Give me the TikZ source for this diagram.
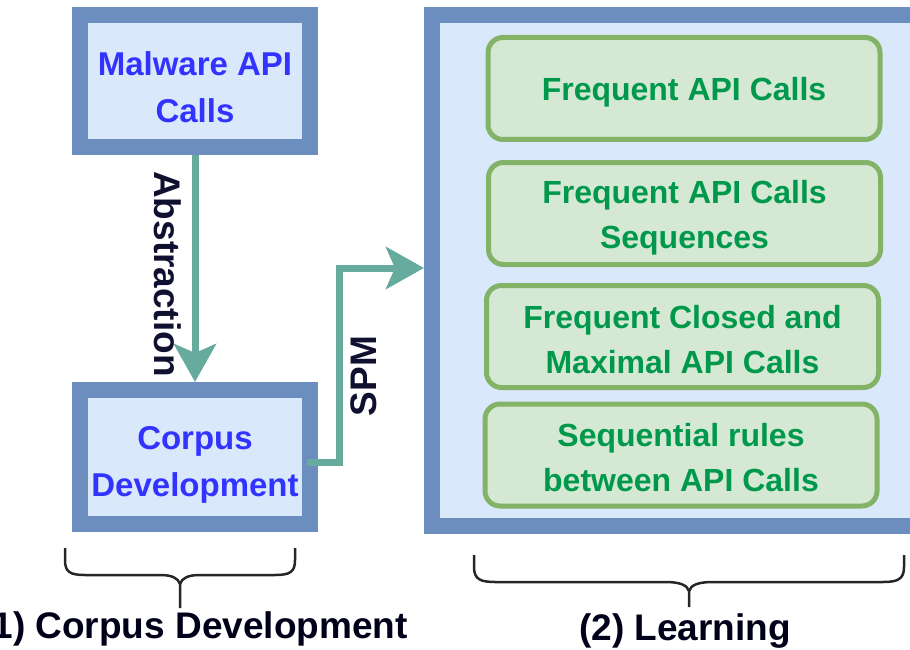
\documentclass[tikz,border=0pt]{standalone}
\usepackage{fontspec}
\setmainfont{Liberation Sans}
\usetikzlibrary{arrows.meta}
\definecolor{bblue}{HTML}{6C8EBF}
\definecolor{fblue}{HTML}{DAE8FC}
\definecolor{tealc}{HTML}{67AB9F}
\definecolor{gstroke}{HTML}{82B366}
\definecolor{gfill}{HTML}{D5E8D4}
\definecolor{gtext}{HTML}{00994C}
\definecolor{btext}{HTML}{3333FF}
\definecolor{ltext}{HTML}{101030}
\newcommand\bstr{\rule[-2pt]{0pt}{40pt}}
\newcommand\gstr{\rule[-3pt]{0pt}{34pt}}
\tikzset{
  bigbox/.style={draw=bblue, fill=fblue, line width=16pt, rectangle, inner sep=0pt},
  smallbox/.style={bigbox, minimum width=230pt, text=btext, align=center,
    font=\fontsize{33}{47}\selectfont\bfseries},
  greenbox/.style={draw=gstroke, fill=gfill, line width=5pt, rounded corners=15pt,
    minimum width=392pt, minimum height=102pt, inner sep=0pt, align=center, text=gtext,
    font=\fontsize{32}{45}\selectfont\bfseries},
  flow/.style={draw=tealc, line width=7pt, -{Stealth[length=38pt,width=42pt,inset=9pt]}},
  lbl/.style={text=ltext, font=\fontsize{37}{40}\selectfont\bfseries, inner sep=0pt},
  bracepath/.style={draw=black!85, line width=2.5pt},
  caption/.style={text=black!90!blue, font=\fontsize{37}{40}\selectfont\bfseries, inner sep=0pt}
}
\begin{document}
\begin{tikzpicture}[x=1pt,y=-1pt]
\useasboundingbox (0,0) rectangle (910,650);
\begin{scope}
\clip (0,0) rectangle (910,650);
% boxes
\node[smallbox, minimum height=132pt] (mal) at (195,81) {\bstr Malware API\\\bstr Calls};
\node[smallbox, minimum height=134pt] (corp) at (195,457) {\bstr Corpus\\\bstr Development};
\node[bigbox, minimum width=498pt, minimum height=511pt] (learn) at (681,270.5) {};
% green boxes
\node[greenbox] (g1) at (684,88.5) {\gstr Frequent API Calls};
\node[greenbox] (g2) at (684.5,213.5) {\gstr Frequent API Calls\\\gstr Sequences};
\node[greenbox] (g3) at (682.5,336.5) {\gstr Frequent Closed and\\\gstr Maximal API Calls};
\node[greenbox] (g4) at (681,455) {\gstr Sequential rules\\\gstr between API Calls};
% arrows
\draw[flow] (mal.south) -- (corp.north);
\node[lbl, rotate=-90] (abs) at (168,274) {Abstraction};
\coordinate (bend) at (339,268);
\draw[flow] ([xshift=-11pt,yshift=-5pt]corp.east) -| (bend) -- (bend -| learn.west);
\node[lbl, rotate=90] (spm) at (364,376) {SPM};
% braces
\draw[bracepath] (65,548) -- (65,560) .. controls (65,572) and (70,575) .. (85,575) -- (160,575) .. controls (172,575) and (178,578) .. (180,584) -- (180,608);
\draw[bracepath] (295,548) -- (295,560) .. controls (295,572) and (290,575) .. (275,575) -- (200,575) .. controls (188,575) and (182,578) .. (180,584);
\draw[bracepath] (474,555) -- (474,567) .. controls (474,579) and (480,582) .. (495,582) -- (665,582) .. controls (680,582) and (687,585) .. (689,591) -- (689,607);
\draw[bracepath] (904,555) -- (904,567) .. controls (904,579) and (898,582) .. (883,582) -- (713,582) .. controls (698,582) and (691,585) .. (689,591);
% captions
\node[caption, anchor=base east] (c1) at (408,638) {(1) Corpus Development};
\node[caption, anchor=base] (c2) at (685,640) {(2) Learning};
\end{scope}
\end{tikzpicture}
\end{document}
